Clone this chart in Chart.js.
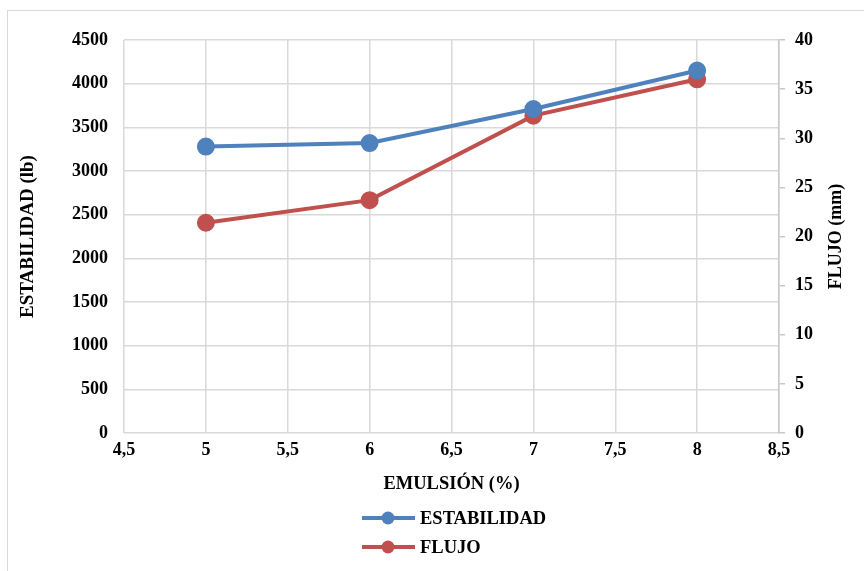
<!DOCTYPE html>
<html>
<head>
<meta charset="utf-8">
<script src="https://cdn.jsdelivr.net/npm/chart.js@4.4.1/dist/chart.umd.min.js"></script>
<style>
  body { margin: 0; background: #fff; }
  #wrap { position: relative; width: 864px; height: 571px; }
  #frame { position: absolute; left: 7px; top: 10px; width: 870px; height: 580px; border: 1px solid #d9d9d9; pointer-events: none; }
</style>
</head>
<body>
<div id="wrap">
  <canvas id="chart" width="864" height="571"></canvas>
  <div id="frame"></div>
</div>
<script>
// Data
const emulsion = [5, 6, 7, 8];
const estabilidad = [3280, 3320, 3710, 4150];
const flujo = [21.4, 23.7, 32.3, 36.0];
const rightTitle = 'FLUJO (mm)';

const serif = "'Liberation Serif', 'Times New Roman', serif";
const blue = '#4f81bd';
const red = '#c0504d';
const grid = '#d9d9d9';

function toPoints(xs, ys) {
  return xs.map((x, i) => ({ x: x, y: ys[i] }));
}

// Legend stacked vertically under the x axis title,
// plus the right axis title reading bottom-to-top like Excel
const extras = {
  id: 'extras',
  afterDraw(chart) {
    const ctx = chart.ctx;
    const rows = [518, 547];
    const x0 = 362;
    ctx.save();
    ctx.font = 'bold 18.5px ' + serif;
    ctx.textBaseline = 'middle';
    chart.data.datasets.forEach((ds, i) => {
      const y = rows[i];
      ctx.strokeStyle = ds.borderColor;
      ctx.lineWidth = 4;
      ctx.beginPath();
      ctx.moveTo(x0, y);
      ctx.lineTo(x0 + 53, y);
      ctx.stroke();
      ctx.fillStyle = ds.borderColor;
      ctx.beginPath();
      ctx.arc(x0 + 26, y, 6.5, 0, Math.PI * 2);
      ctx.fill();
      ctx.fillStyle = '#000';
      ctx.textAlign = 'left';
      ctx.fillText(ds.label, x0 + 58, y + 1);
    });

    const area = chart.chartArea;
    ctx.translate(836, (area.top + area.bottom) / 2);
    ctx.rotate(-Math.PI / 2);
    ctx.textAlign = 'center';
    ctx.font = 'bold 18px ' + serif;
    ctx.fillText(rightTitle, 0, 0);
    ctx.restore();
  }
};

new Chart(document.getElementById('chart'), {
  type: 'line',
  data: {
    datasets: [
      {
        label: 'ESTABILIDAD',
        data: toPoints(emulsion, estabilidad),
        borderColor: blue,
        backgroundColor: blue,
        borderWidth: 4,
        pointRadius: 7,
        pointHoverRadius: 7,
        yAxisID: 'y'
      },
      {
        label: 'FLUJO',
        data: toPoints(emulsion, flujo),
        borderColor: red,
        backgroundColor: red,
        borderWidth: 4,
        pointRadius: 7,
        pointHoverRadius: 7,
        yAxisID: 'y1'
      }
    ]
  },
  options: {
    responsive: false,
    animation: false,
    layout: { padding: { left: 8, top: 40, right: 10, bottom: 76 } },
    plugins: {
      legend: { display: false },
      tooltip: { enabled: false }
    },
    scales: {
      x: {
        type: 'linear',
        min: 4.5,
        max: 8.5,
        afterFit: s => { s.height = 62; },
        ticks: {
          stepSize: 0.5,
          padding: 7,
          color: '#000',
          font: { family: serif, size: 18, weight: 'bold' },
          callback: v => String(v).replace('.', ',')
        },
        grid: { color: grid, lineWidth: 1.5, drawTicks: false },
        border: { display: false },
        title: {
          display: true,
          text: 'EMULSIÓN (%)',
          color: '#000',
          padding: { top: 4, bottom: 0 },
          font: { family: serif, size: 18.5, weight: 'bold' }
        }
      },
      y: {
        position: 'left',
        min: 0,
        max: 4500,
        afterFit: s => { s.width = 116; },
        ticks: {
          stepSize: 500,
          padding: 16,
          color: '#000',
          font: { family: serif, size: 18, weight: 'bold' },
          callback: v => String(v)
        },
        grid: { color: grid, lineWidth: 1.5, drawTicks: false },
        border: { display: false },
        title: {
          display: true,
          text: 'ESTABILIDAD (lb)',
          color: '#000',
          padding: 9,
          font: { family: serif, size: 19, weight: 'bold' }
        }
      },
      y1: {
        position: 'right',
        min: 0,
        max: 40,
        afterFit: s => { s.width = 75; },
        ticks: {
          stepSize: 5,
          padding: 10,
          color: '#000',
          font: { family: serif, size: 18, weight: 'bold' }
        },
        grid: { drawOnChartArea: false, color: '#c8c8c8', lineWidth: 1.5, tickLength: 6 },
        border: { display: true, color: '#c8c8c8', width: 1.5 },
        title: { display: false }
      }
    }
  },
  plugins: [extras]
});
</script>
</body>
</html>
